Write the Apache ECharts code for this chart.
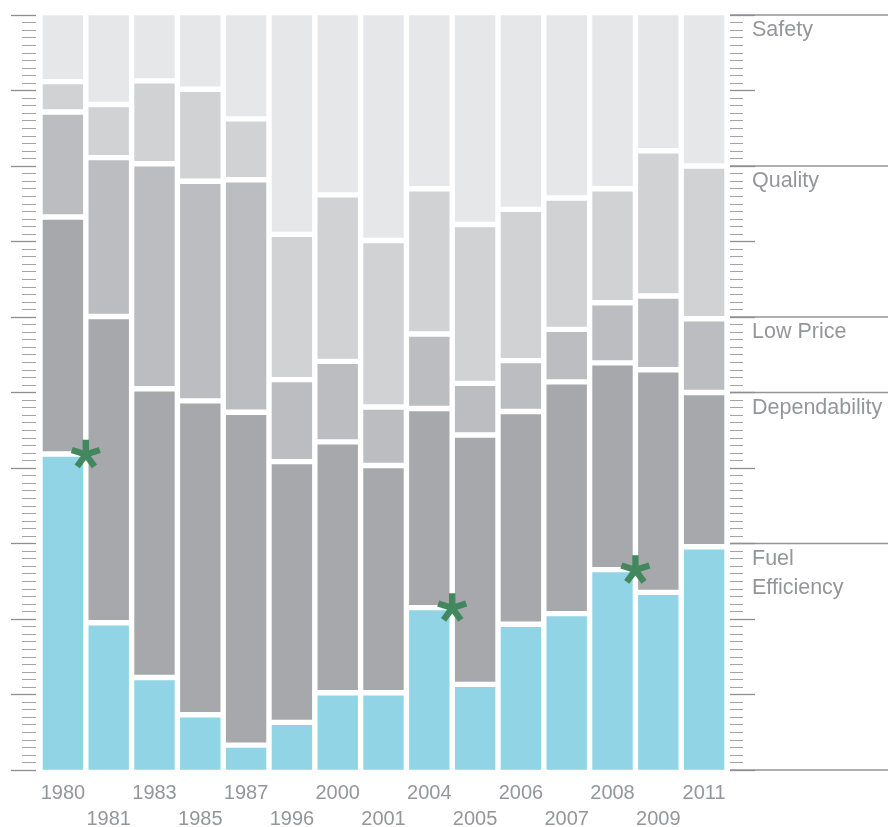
<!DOCTYPE html>
<html>
<head>
<meta charset="utf-8">
<script src="https://cdn.jsdelivr.net/npm/echarts@6/dist/echarts.min.js"></script>
<style>
  html, body { margin: 0; padding: 0; background: #fff; }
  #chart { width: 888px; height: 827px; }
</style>
</head>
<body>
<div id="chart"></div>
<script>
// survey shares (%) per year, bottom segment first
const years = ['1980', '1981', '1983', '1985', '1987', '1996', '2000', '2001', '2004', '2005', '2006', '2007', '2008', '2009', '2011'];
const fuelEfficiency = [41.9, 19.7, 12.5, 7.6, 3.6, 6.6, 10.5, 10.5, 21.7, 11.6, 19.5, 20.9, 26.7, 23.7, 29.7];
const dependability = [31.2, 40.3, 38.0, 41.3, 43.8, 34.3, 33.0, 29.9, 26.2, 32.8, 28.0, 30.5, 27.2, 29.3, 20.3];
const lowPrice = [13.8, 20.9, 29.6, 28.9, 30.6, 10.8, 10.6, 7.7, 9.8, 6.8, 6.7, 6.9, 7.9, 9.7, 9.7];
const quality = [4.0, 7.0, 10.9, 12.1, 8.0, 19.1, 21.9, 21.9, 19.1, 20.9, 19.9, 17.3, 15.0, 19.1, 20.1];
const safety = [9.1, 12.1, 9.0, 10.1, 14.0, 29.2, 24.0, 30.0, 23.2, 27.9, 25.9, 24.4, 23.2, 18.2, 20.2];

// right-hand key: labels bottom to top and the scale bounds between them
const keyLabels = ['Fuel\nEfficiency', 'Dependability', 'Low Price', 'Quality', 'Safety'];
const keyBounds = [0, 30, 50, 60, 80, 100];

// years flagged with an asterisk
const starred = ['1980', '2004', '2008'];

const font = '"Liberation Sans", Arial, Helvetica, sans-serif';
const textColor = '#959699';
const segColors = ['#90d4e6', '#a7a8ab', '#bcbdc0', '#d1d2d4', '#e6e7e9'];
const segData = [fuelEfficiency, dependability, lowPrice, quality, safety];

function asteriskPath(len, w) {
    let d = '';
    for (let k = 0; k < 5; k++) {
        const a = (-90 + 72 * k) * Math.PI / 180;
        const dx = Math.cos(a), dy = Math.sin(a);
        const px = -dy * w / 2, py = dx * w / 2;
        const pts = [[px, py], [px + dx * len, py + dy * len], [-px + dx * len, -py + dy * len], [-px, -py]];
        d += 'M' + pts.map(p => (p[0] + 20).toFixed(2) + ' ' + (p[1] + 20).toFixed(2)).join('L') + 'Z';
    }
    return 'path://' + d;
}

function tickAxis(pos) {
    return {
        type: 'value',
        gridIndex: 1,
        position: pos,
        min: 0,
        max: 100,
        interval: 10,
        axisLine: { show: false },
        axisTick: { show: true, length: 25, lineStyle: { color: '#8e8f92', width: 1.3 } },
        minorTick: { show: true, splitNumber: 10, length: pos === 'left' ? 14 : 13, lineStyle: { color: '#a3a4a7', width: 1 } },
        axisLabel: { show: false },
        splitLine: { show: false }
    };
}

const chart = echarts.init(document.getElementById('chart'));

const series = segData.map((d, i) => ({
    type: 'bar',
    name: keyLabels[i],
    stack: 'share',
    data: d,
    barCategoryGap: '0%',
    xAxisIndex: 0,
    yAxisIndex: 0,
    itemStyle: { color: segColors[i], borderColor: '#ffffff', borderWidth: 2.7 },
    emphasis: { disabled: true }
}));

series.push({
    type: 'scatter',
    xAxisIndex: 1,
    yAxisIndex: 0,
    z: 10,
    symbol: asteriskPath(15, 6.5),
    symbolSize: 30,
    symbolKeepAspect: true,
    itemStyle: { color: '#43875f', opacity: 1 },
    emphasis: { disabled: true },
    data: starred.map(y => {
        const i = years.indexOf(y);
        return [i + 1, fuelEfficiency[i]];
    })
});

const option = {
    animation: false,
    grid: [
        { left: 40, top: 12.5, width: 687, height: 760, outerBoundsMode: 'none' },
        { left: 36, top: 15, width: 694, height: 755, outerBoundsMode: 'none' }
    ],
    xAxis: [
        {
            type: 'category',
            gridIndex: 0,
            data: years,
            axisLine: { show: false },
            axisTick: { show: false },
            axisLabel: {
                interval: 0,
                margin: 8,
                color: textColor,
                fontSize: 20,
                fontFamily: font,
                lineHeight: 26,
                formatter: (v, i) => (i % 2 ? '\n' + v : v)
            }
        },
        { type: 'value', gridIndex: 0, min: 0, max: years.length, show: false },
        { type: 'value', gridIndex: 1, min: 0, max: 1, show: false }
    ],
    yAxis: [
        { type: 'value', gridIndex: 0, min: 0, max: 100, show: false },
        tickAxis('left'),
        tickAxis('right')
    ],
    series: series
};

chart.setOption(option);

// key lines and labels to the right of the chart
const keyLeft = 36 + 694;
const graphics = [];
keyBounds.forEach(b => {
    const y = chart.convertToPixel({ yAxisIndex: 2 }, b);
    graphics.push({
        type: 'line',
        shape: { x1: keyLeft, y1: y, x2: 888, y2: y },
        style: { stroke: '#949598', lineWidth: 1.5 }
    });
});
keyLabels.forEach((t, i) => {
    const y = chart.convertToPixel({ yAxisIndex: 2 }, keyBounds[i + 1]);
    graphics.push({
        type: 'text',
        x: 752,
        y: y + 1,
        style: { text: t, fill: textColor, font: '21.5px ' + font, lineHeight: 29, verticalAlign: 'top' }
    });
});
chart.setOption({ graphic: graphics });
</script>
</body>
</html>
